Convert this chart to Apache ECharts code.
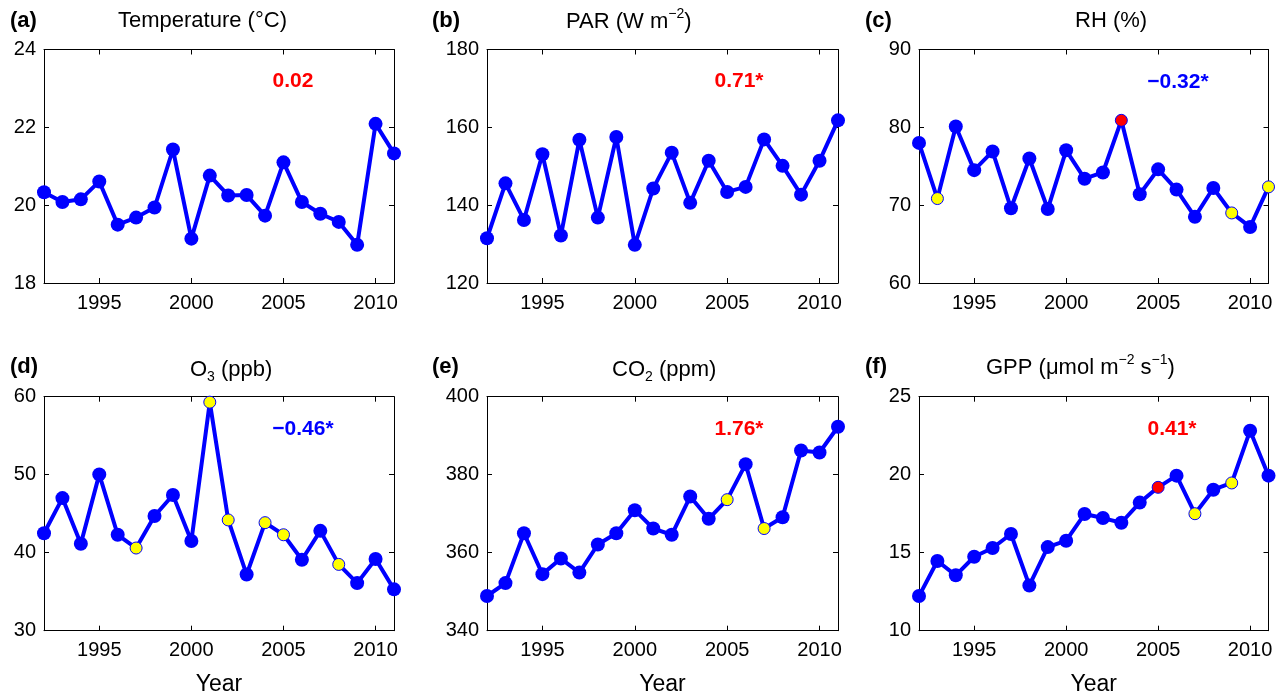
<!DOCTYPE html>
<html><head><meta charset="utf-8">
<script src="https://cdn.jsdelivr.net/npm/echarts@6/dist/echarts.min.js"></script>
<style>html,body{margin:0;padding:0;background:#fff}#c{width:1287px;height:697px}</style>
</head><body><div id="c"></div><script>
const years = ['1992','1993','1994','1995','1996','1997','1998','1999','2000','2001','2002','2003','2004','2005','2006','2007','2008','2009','2010','2011'];
const tickYears = ['1995','2000','2005','2010'];

const temperature = [20.33,20.08,20.15,20.61,19.5,19.68,19.94,21.43,19.14,20.76,20.25,20.26,19.73,21.1,20.08,19.78,19.57,18.98,22.09,21.33];
const par = [131.5,145.6,136.2,153.1,132.2,156.8,136.8,157.5,129.8,144.3,153.5,140.6,151.4,143.4,144.7,156.9,150.1,142.7,151.4,161.8];
const rh = [78.0,70.85,80.1,74.5,76.9,69.6,76.0,69.5,77.05,73.4,74.2,80.9,71.4,74.6,72.0,68.5,72.2,69.0,67.2,72.35];
const o3 = [42.5,47.0,41.15,50.04,42.3,40.6,44.7,47.4,41.5,59.3,44.2,37.2,43.85,42.3,39.1,42.8,38.5,36.1,39.2,35.3];
const co2 = [348.9,352.2,365.0,354.5,358.5,354.9,362.1,365.0,370.9,366.2,364.6,374.4,368.7,373.6,382.7,366.2,369.1,386.2,385.7,392.3];
const gpp = [12.22,14.47,13.55,14.74,15.3,16.2,12.9,15.36,15.77,17.48,17.22,16.92,18.21,19.19,19.94,17.5,19.04,19.47,22.82,19.94];

const rhYellow = ['1993','2009','2011'];
const rhRed = ['2003'];
const o3Yellow = ['1997','2001','2002','2004','2005','2008'];
const co2Yellow = ['2005','2007'];
const gppYellow = ['2007','2009'];
const gppRed = ['2005'];

const yTicksTemp = [18,24,2];
const yTicksPar = [120,180,20];
const yTicksRh = [60,90,10];
const yTicksO3 = [30,60,10];
const yTicksCo2 = [340,400,20];
const yTicksGpp = [10,25,5];

const trendLabels = ['0.02','0.71*','\u22120.32*','\u22120.46*','1.76*','0.41*'];
const trendColors = ['#ff0000','#ff0000','#0000ff','#0000ff','#ff0000','#ff0000'];

const FONT = "'Liberation Sans', Arial, Helvetica, sans-serif";
const BLUE = '#0000ff';

const panels = [
  {vals: temperature, ticks: yTicksTemp, yellow: [], red: [], left: 44, top: 49.5, width: 350, height: 233.5, year: false},
  {vals: par, ticks: yTicksPar, yellow: [], red: [], left: 487, top: 49.5, width: 351, height: 233.5, year: false},
  {vals: rh, ticks: yTicksRh, yellow: rhYellow, red: rhRed, left: 919, top: 49.5, width: 349.5, height: 233.5, year: false},
  {vals: o3, ticks: yTicksO3, yellow: o3Yellow, red: [], left: 44, top: 396.7, width: 350, height: 234, year: true},
  {vals: co2, ticks: yTicksCo2, yellow: co2Yellow, red: [], left: 487, top: 396.7, width: 351, height: 234, year: true},
  {vals: gpp, ticks: yTicksGpp, yellow: gppYellow, red: gppRed, left: 919, top: 396.7, width: 349.5, height: 234, year: true}
];

const isTick = (i, v) => tickYears.indexOf(String(v)) >= 0;

const grid = [], xAxis = [], yAxis = [], series = [];
panels.forEach((p, i) => {
  grid.push({left: p.left, top: p.top, width: p.width, height: p.height, containLabel: false});
  const axLine = {show: true, lineStyle: {color: '#000', width: 1}};
  xAxis.push({
    type: 'category', data: years, boundaryGap: false, gridIndex: i, position: 'bottom',
    axisLine: axLine,
    axisTick: {show: true, inside: true, length: 5, interval: isTick, lineStyle: {color: '#000'}},
    axisLabel: {show: true, interval: isTick, fontSize: 20, color: '#000', fontFamily: FONT, margin: 10},
    splitLine: {show: false},
    name: p.year ? 'Year' : '', nameLocation: 'middle', nameGap: 42,
    nameTextStyle: {fontSize: 23, color: '#000', fontFamily: FONT}
  });
  xAxis.push({
    type: 'category', data: years, boundaryGap: false, gridIndex: i, position: 'top',
    axisLine: axLine,
    axisTick: {show: true, inside: true, length: 5, interval: isTick, lineStyle: {color: '#000'}},
    axisLabel: {show: false}, splitLine: {show: false}
  });
  yAxis.push({
    type: 'value', gridIndex: i, min: p.ticks[0], max: p.ticks[1], interval: p.ticks[2], position: 'left',
    axisLine: axLine,
    axisTick: {show: true, inside: true, length: 5, lineStyle: {color: '#000'}},
    axisLabel: {fontSize: 20, color: '#000', fontFamily: FONT, margin: 8},
    splitLine: {show: false}
  });
  yAxis.push({
    type: 'value', gridIndex: i, min: p.ticks[0], max: p.ticks[1], interval: p.ticks[2], position: 'right',
    axisLine: axLine,
    axisTick: {show: true, inside: true, length: 5, lineStyle: {color: '#000'}},
    axisLabel: {show: false}, splitLine: {show: false}
  });
  const data = p.vals.map((v, k) => {
    const y = years[k];
    if (p.yellow.indexOf(y) >= 0) return {value: v, symbolSize: 12, itemStyle: {color: '#ffff00', borderColor: BLUE, borderWidth: 1}};
    if (p.red.indexOf(y) >= 0) return {value: v, symbolSize: 12, itemStyle: {color: '#ff0000', borderColor: BLUE, borderWidth: 1}};
    return v;
  });
  series.push({
    type: 'line', xAxisIndex: 2 * i, yAxisIndex: 2 * i, data: data,
    symbol: 'circle', symbolSize: 14, showSymbol: true, showAllSymbol: true, clip: false,
    lineStyle: {color: BLUE, width: 4}, itemStyle: {color: BLUE, borderWidth: 0},
    emphasis: {disabled: true}, animation: false
  });
});

const titleRich = {
  s: {fontSize: 14, fontFamily: FONT, color: '#000', padding: [0, 0, 16, 0]},
  u: {fontSize: 14, fontFamily: FONT, color: '#000', padding: [14, 0, 0, 0]}
};
const mkTitle = (text, left, top, bold) => ({
  text: text, left: left, top: top, padding: 0,
  textStyle: {fontSize: 22, fontWeight: bold ? 'bold' : 'normal', color: '#000', fontFamily: FONT, rich: titleRich}
});
const title = [
  mkTitle('(a)', 10, 10, true), mkTitle('Temperature (\u00b0C)', 118, 10, false),
  mkTitle('(b)', 432, 10, true), mkTitle('PAR (W m{s|\u22122})', 566, 7, false),
  mkTitle('(c)', 865, 10, true), mkTitle('RH (%)', 1075, 10, false),
  mkTitle('(d)', 10, 356, true), mkTitle('O{u|3} (ppb)', 190, 356, false),
  mkTitle('(e)', 432, 356, true), mkTitle('CO{u|2} (ppm)', 612, 356, false),
  mkTitle('(f)', 865, 356, true), mkTitle('GPP (\u03bcmol m{s|\u22122} s{s|\u22121})', 986, 353, false)
];

const annPos = [[293, 81], [739, 81], [1178, 82], [303, 429], [739, 429], [1172, 429]];
const graphic = trendLabels.map((t, i) => ({
  type: 'text', x: annPos[i][0], y: annPos[i][1],
  style: {text: t, fill: trendColors[i], fontSize: 21, fontWeight: 'bold', fontFamily: FONT,
          align: 'center', verticalAlign: 'middle', textAlign: 'center', textVerticalAlign: 'middle'}
}));

const chart = echarts.init(document.getElementById('c'), null, {renderer: 'canvas'});
chart.setOption({animation: false, backgroundColor: '#fff', title, grid, xAxis, yAxis, series, graphic});
</script></body></html>
